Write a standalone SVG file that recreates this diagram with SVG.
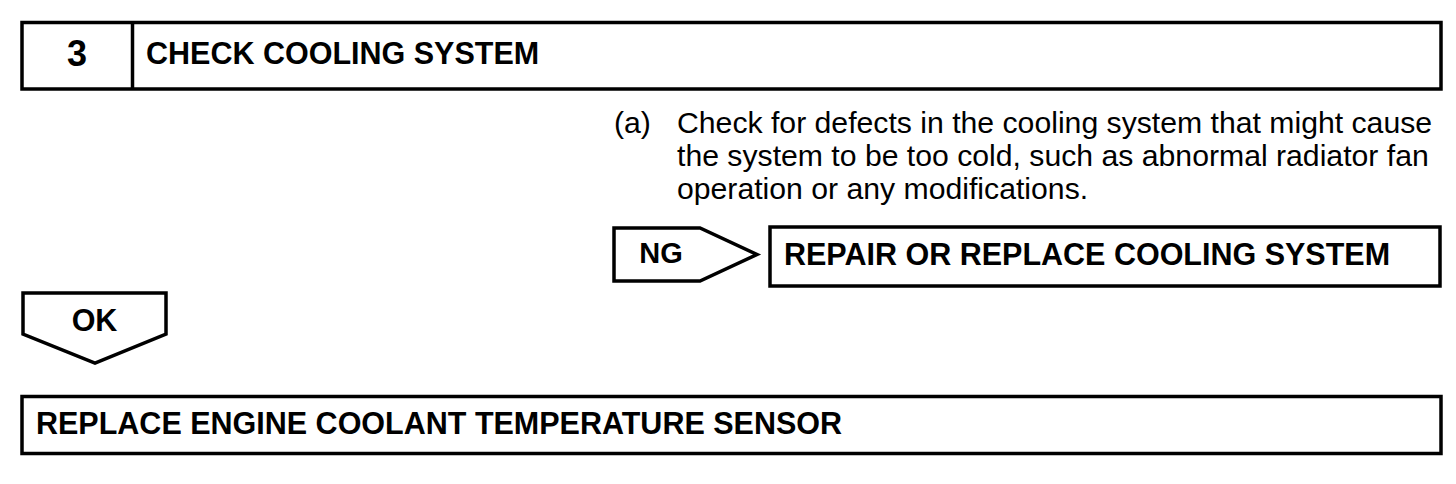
<svg xmlns="http://www.w3.org/2000/svg" width="1456" height="484" viewBox="0 0 1456 484">
<style>
.box{fill:#fff;stroke:#000;stroke-width:3.5}
.b{font-family:"Liberation Sans",Arial,sans-serif;font-weight:bold;font-size:30.5px;fill:#000}
.r{font-family:"Liberation Sans",Arial,sans-serif;font-size:30.2px;fill:#000}
</style>
<rect width="1456" height="484" fill="#fff"/>
<g id="step-header">
<rect class="box" x="22" y="22.5" width="1419" height="66.5"/>
<line x1="132.5" y1="22.5" x2="132.5" y2="89" stroke="#000" stroke-width="3.5"/>
<text class="b" x="77" y="66" text-anchor="middle" style="font-size:36px">3</text>
<text class="b" x="146" y="64">CHECK COOLING SYSTEM</text>
</g>
<g id="instruction">
<text class="r" x="614" y="133">(a)</text>
<text class="r" x="677" y="133">Check for defects in the cooling system that might cause</text>
<text class="r" x="677" y="166">the system to be too cold, such as abnormal radiator fan</text>
<text class="r" x="677" y="199">operation or any modifications.</text>
</g>
<g id="connectors">
<g id="ng-arrow">
<polygon class="box" points="614,228 700,228 757,254.5 700,281 614,281"/>
<text class="b" x="661" y="263" text-anchor="middle" style="font-size:29px">NG</text>
</g>
<g id="ok-arrow">
<polygon class="box" points="23,293 166,293 166,334 95,363 23,334"/>
<text class="b" x="94.5" y="331" text-anchor="middle">OK</text>
</g>
</g>
<g id="ng-result">
<rect class="box" x="770" y="227" width="670" height="59"/>
<text class="b" x="784" y="265">REPAIR OR REPLACE COOLING SYSTEM</text>
</g>
<g id="ok-result">
<rect class="box" x="22" y="396.5" width="1419" height="57"/>
<text class="b" x="36" y="434">REPLACE ENGINE COOLANT TEMPERATURE SENSOR</text>
</g>
</svg>
